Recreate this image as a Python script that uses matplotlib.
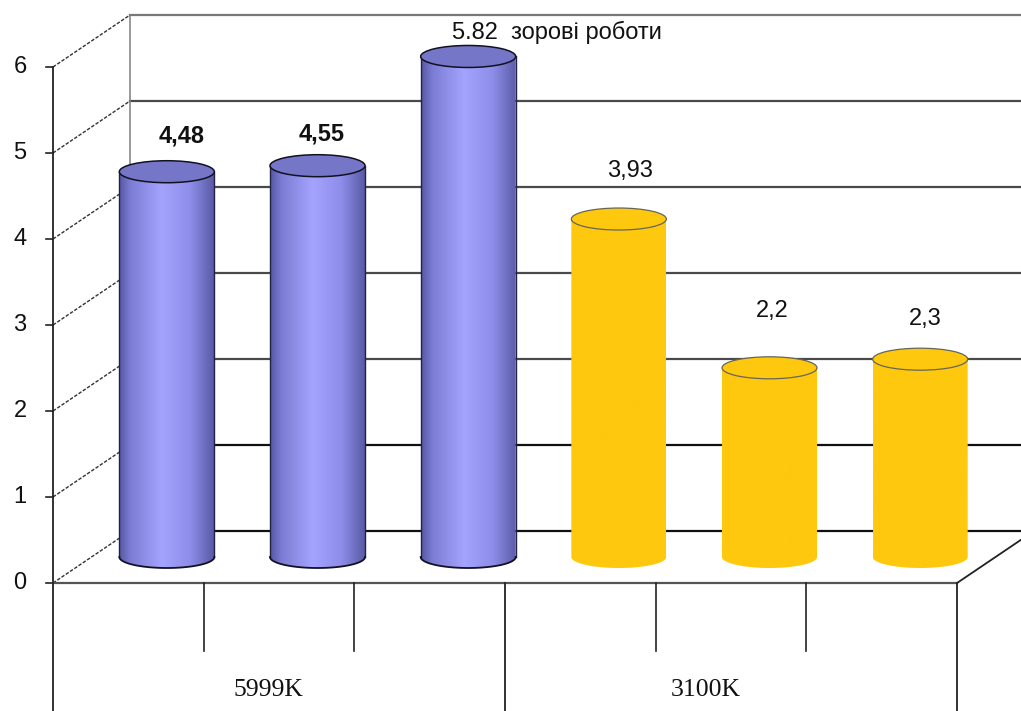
import numpy as np
import matplotlib
matplotlib.use("Agg")
import matplotlib.pyplot as plt
from matplotlib.path import Path
from matplotlib.patches import PathPatch, Ellipse
from matplotlib.colors import LinearSegmentedColormap

# ---- data ----
categories = ["5999K", "3100K"]
values = [4.48, 4.55, 5.82, 3.93, 2.2, 2.3]
labels = ["4,48", "4,55", "5.82  зорові роботи", "3,93", "2,2", "2,3"]
label_bold = [True, True, False, False, False, False]
bar_group = [0, 0, 0, 1, 1, 1]
y_ticks = [0, 1, 2, 3, 4, 5, 6]
y_max = 6

# ---- geometry (slot units on x, value units on y) ----
PX_SLOT = 150.67
PX_UNIT = 86.0
X0_PX, Y0_PX = 53, 583
W_PX, H_PX = 1021, 711
DX = 77 / PX_SLOT        # depth offset (full depth) in slot units
DY = 52 / PX_UNIT        # depth offset in value units
BAR_W = 95 / PX_SLOT
ELL_H = 22 / PX_UNIT
n_slots = len(values)

def to_px_x(p):
    return p / PX_SLOT
def to_px_y(p):
    return p / PX_UNIT

fig = plt.figure(figsize=(10.21, 7.11), dpi=100)
ax = fig.add_axes([0, 0, 1, 1])
ax.set_xlim(-X0_PX / PX_SLOT, (W_PX - X0_PX) / PX_SLOT)
ax.set_ylim((Y0_PX - H_PX) / PX_UNIT, Y0_PX / PX_UNIT)
ax.axis("off")

def P(s, v, d):
    return (s + d * DX, v + d * DY)

grid_c = "#4a4a4a"
right_edge = (W_PX - X0_PX) / PX_SLOT

# back wall gridlines
for t in y_ticks:
    x0, y0 = P(0, t, 1)
    lw = 1.6
    col = "#111111" if t in (0, 1) else grid_c
    if t == y_max:
        col = "#777777"
    ax.plot([x0, right_edge], [y0, y0], color=col, lw=lw, zorder=1)
# back wall left edge
xa, ya = P(0, 0, 1)
xb, yb = P(0, y_max, 1)
ax.plot([xa, xb], [ya, yb], color="#888888", lw=1.2, zorder=1)

# left wall diagonals (dashed)
for t in y_ticks:
    xa, ya = P(0, t, 0)
    xb, yb = P(0, t, 1)
    ax.plot([xa, xb], [ya, yb], color="#333333", lw=1.0, ls=(0, (2.5, 1.2)), zorder=1)

# front vertical axis
ax.plot([0, 0], [0, y_max], color="#222222", lw=1.3, zorder=2)
for t in y_ticks:
    ax.plot([0, -to_px_x(7)], [t, t], color="#222222", lw=1.2, zorder=2)
    ax.text(-to_px_x(33), t, str(t), ha="center", va="center",
            fontsize=17, family="Liberation Sans", color="#111111")

# floor
ax.plot([0, n_slots], [0, 0], color="#555555", lw=1.6, zorder=2)
xa, ya = P(n_slots, 0, 0)
xb, yb = P(n_slots, 0, (W_PX - 957) / 77)
ax.plot([xa, xb], [ya, yb], color="#222222", lw=1.3, zorder=2)

# category axis lines
bottom = (Y0_PX - H_PX) / PX_UNIT
for k in range(n_slots + 1):
    if k % 3 == 0:
        ax.plot([k, k], [0, bottom], color="#222222", lw=1.3, zorder=2)
    else:
        ax.plot([k, k], [0, -to_px_y(68)], color="#222222", lw=1.2, zorder=2)
cat_centers_px = [268, 706]
for j, c in enumerate(categories):
    ax.text((cat_centers_px[j] - X0_PX) / PX_SLOT, -to_px_y(107), c,
            ha="center", va="center", fontsize=18.5, family="Liberation Serif",
            color="#111111")

# cylinders
blue_cmap = LinearSegmentedColormap.from_list(
    "blue", [(0, "#5656a4"), (0.12, "#7c7cd4"), (0.45, "#a4a4ff"),
             (0.75, "#8e8eea"), (1.0, "#5a5aa6")])
yellow_cmap = LinearSegmentedColormap.from_list(
    "yel", [(0, "#fec80e"), (1, "#fec80e")])
grad = np.linspace(0, 1, 256).reshape(1, -1)

label_off_px = [(15, 35), (4, 31), (89, 23), (11, 47), (3, 56), (5, 39)]

for i, v in enumerate(values):
    cx, base = P(i + 0.5, 0, 0.5)
    _, top = P(i + 0.5, v, 0.5)
    hw = BAR_W / 2
    th = np.linspace(np.pi, 2 * np.pi, 60)
    arc = np.column_stack([cx + hw * np.cos(th), base + ELL_H / 2 * np.sin(th)])
    verts = [(cx - hw, top)] + list(map(tuple, arc)) + [(cx + hw, top), (cx - hw, top)]
    codes = [Path.MOVETO] + [Path.LINETO] * (len(verts) - 2) + [Path.CLOSEPOLY]
    body = PathPatch(Path(verts, codes), facecolor="none", edgecolor="none", zorder=3)
    ax.add_patch(body)
    blue = bar_group[i] == 0
    cmap = blue_cmap if blue else yellow_cmap
    im = ax.imshow(grad, cmap=cmap, aspect="auto",
                   extent=[cx - hw, cx + hw, base - ELL_H, top], zorder=3,
                   interpolation="bilinear")
    im.set_clip_path(body)
    if blue:
        ax.plot([cx - hw, cx - hw], [base, top], color="#222244", lw=1.0, zorder=4)
        ax.plot([cx + hw, cx + hw], [base, top], color="#222244", lw=1.0, zorder=4)
        ax.plot(arc[:, 0], arc[:, 1], color="#111122", lw=1.3, zorder=4)
        ax.add_patch(Ellipse((cx, top), BAR_W, ELL_H, facecolor="#7676c9",
                             edgecolor="#111122", lw=1.1, zorder=5))
    else:
        ax.add_patch(Ellipse((cx, top), BAR_W, ELL_H, facecolor="#fec80e",
                             edgecolor="#666655", lw=0.9, zorder=5))
    ox, oy = label_off_px[i]
    ax.text(cx + to_px_x(ox), top + ELL_H / 2 + to_px_y(oy - 10), labels[i],
            ha="center", va="center", fontsize=17, family="Liberation Sans",
            fontweight="bold" if label_bold[i] else "normal", color="#111111",
            zorder=6)

fig.savefig("out.png", dpi=100, facecolor="white")
